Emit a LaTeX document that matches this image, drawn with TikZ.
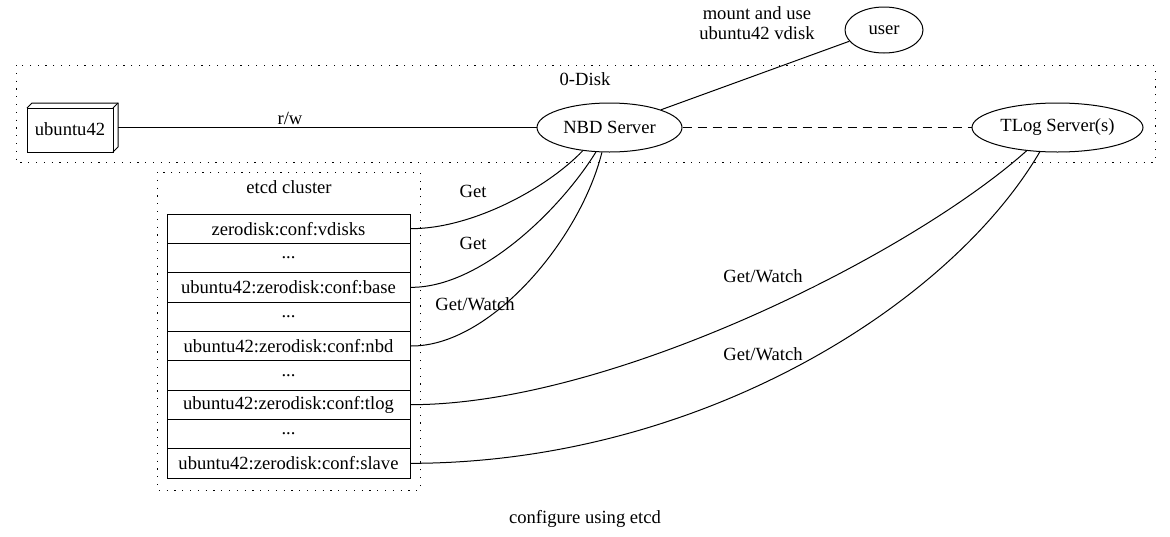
\documentclass[tikz,border=0pt]{standalone}
\usepackage{fontspec}
\setmainfont{Liberation Serif}
\usetikzlibrary{shapes.geometric}
\begin{document}
\begin{tikzpicture}[x=1pt,y=-1pt,
  every node/.style={font=\fontsize{18.6}{19.5}\selectfont},
  ln/.style={line width=1pt},
  cluster/.style={line width=1pt, dash pattern=on 1.2pt off 6.6pt},
  ell/.style={draw, ellipse, line width=1pt, inner sep=0pt},
  row/.style={draw, line width=1pt, minimum width=243pt, minimum height=29.33pt, inner sep=0pt},
  lbl/.style={inner sep=0pt}
]
\useasboundingbox (0,0) rectangle (1170,536);
% clusters
\draw[cluster] (16,65) rectangle (1155,162);
\node[lbl] (diskl) at (585,79) {0-Disk};
\draw[cluster] (157,172) rectangle (420,490);
\node[lbl] (etcdl) at (289,187) {etcd cluster};
% ubuntu42 box (3D)
\draw[ln] (27,108) rectangle (113,152);
\draw[ln] (27,108) -- (32,103) -- (118,103) -- (118,147) -- (113,152);
\draw[ln] (113,108) -- (118,103);
\coordinate (ub) at (118,127.5);
\node[lbl] (ubl) at (70,129) {ubuntu42};
% ellipses
\node[ell, minimum width=145pt, minimum height=49pt] (nbd) at (609.5,127.5) {NBD Server};
\node[ell, minimum width=171pt, minimum height=49pt] (tlog) at (1057.5,127.5) {TLog Server(s)};
\node[ell, minimum width=78pt, minimum height=46pt] (user) at (884,30) {user};
% table
\node[row] (r1) at (288.5,228.67) {zerodisk:conf:vdisks};
\node[row] (r2) at (288.5,258.00) {...};
\node[row] (r3) at (288.5,287.33) {ubuntu42:zerodisk:conf:base};
\node[row] (r4) at (288.5,316.67) {...};
\node[row] (r5) at (288.5,346.00) {ubuntu42:zerodisk:conf:nbd};
\node[row] (r6) at (288.5,375.33) {...};
\node[row] (r7) at (288.5,404.67) {ubuntu42:zerodisk:conf:tlog};
\node[row] (r8) at (288.5,434.00) {...};
\node[row] (r9) at (288.5,463.33) {ubuntu42:zerodisk:conf:slave};
% edges
\draw[ln] (ub) -- (nbd.west);
\node[lbl] (rw) at (290,118) {r/w};
\draw[ln, dash pattern=on 9pt off 6pt] (nbd.east) -- (tlog.west);
\draw[ln] (nbd.19) -- (user.198);
\node[lbl, align=center] (ml) at (757,23) {mount and use\\ubuntu42 vdisk};
\draw[ln] (r1.east) .. controls (470,229) and (545,190) .. (nbd.221);
\node[lbl] (g1) at (473,191) {Get};
\draw[ln] (r3.east) .. controls (480,288) and (560,210) .. (nbd.241);
\node[lbl] (g2) at (473,243) {Get};
\draw[ln] (r5.east) .. controls (490,347) and (580,240) .. (nbd.253);
\node[lbl] (g3) at (475,304) {Get/Watch};
\draw[ln] (r7.east) .. controls (610,405) and (910,255) .. (tlog.217);
\node[lbl] (g4) at (763,276) {Get/Watch};
\draw[ln] (r9.east) .. controls (700,463) and (950,305) .. (tlog.234);
\node[lbl] (g5) at (763,354) {Get/Watch};
\node[lbl] (cfg) at (585,519) {configure using etcd};
\end{tikzpicture}
\end{document}
